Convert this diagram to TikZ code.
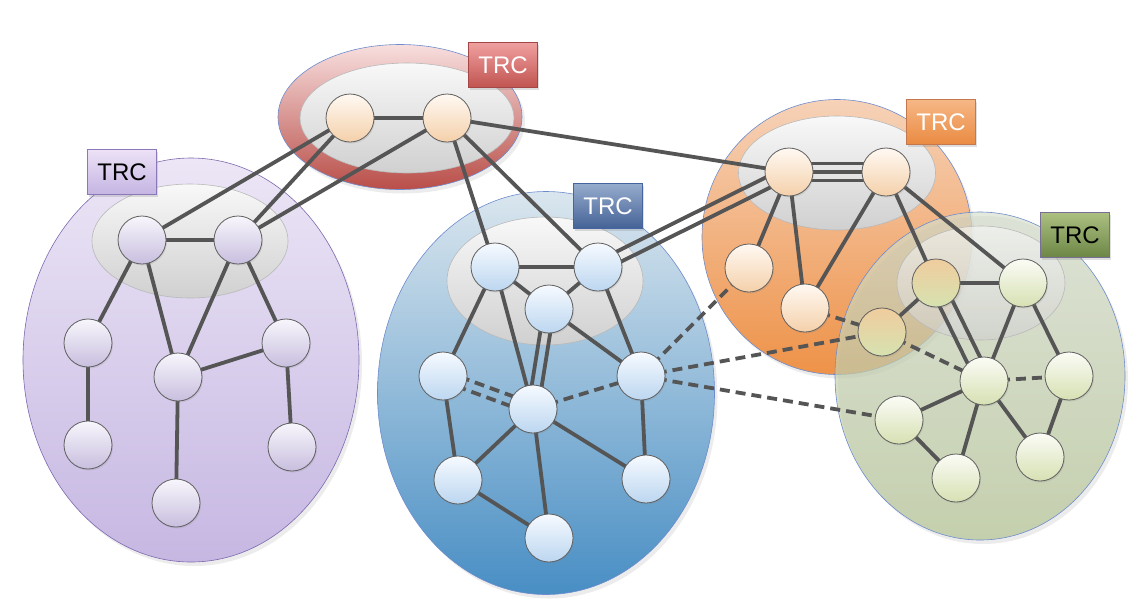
\documentclass[tikz,border=0pt]{standalone}
\usepackage{fontspec}
\setmainfont{Liberation Sans}
\usetikzlibrary{shapes.geometric,shadows,calc}
\pgfdeclarelayer{bg}
\pgfdeclarelayer{mid}
\pgfsetlayers{bg,mid,main}
\definecolor{edgecol}{RGB}{85,85,85}
\definecolor{nodeborder}{RGB}{95,95,95}
\definecolor{isdborder}{RGB}{110,140,205}
\definecolor{coretop}{RGB}{248,248,248}
\definecolor{corebot}{RGB}{208,208,208}
\definecolor{coreborder}{RGB}{185,185,185}
% ISD fills
\definecolor{purtop}{RGB}{236,230,246}
\definecolor{purbot}{RGB}{198,183,226}
\definecolor{purborder}{RGB}{125,105,175}
\definecolor{redtop}{RGB}{247,222,222}
\definecolor{redbot}{RGB}{185,78,72}
\definecolor{blutop}{RGB}{218,230,238}
\definecolor{blubot}{RGB}{72,142,196}
\definecolor{oratop}{RGB}{246,210,184}
\definecolor{orabot}{RGB}{238,146,72}
\definecolor{grntop}{RGB}{214,222,204}
\definecolor{grnbot}{RGB}{178,194,144}
% node fills
\definecolor{npurtop}{RGB}{248,246,252}
\definecolor{npurbot}{RGB}{200,190,222}
\definecolor{noratop}{RGB}{255,249,242}
\definecolor{norabot}{RGB}{244,208,170}
\definecolor{nblutop}{RGB}{246,250,255}
\definecolor{nblubot}{RGB}{188,214,240}
\definecolor{ngrntop}{RGB}{251,252,246}
\definecolor{ngrnbot}{RGB}{214,224,178}
\definecolor{nmixtop}{RGB}{240,204,158}
\definecolor{nmixbot}{RGB}{214,226,176}
% TRC boxes
\definecolor{tredtop}{RGB}{240,160,160}
\definecolor{tredbot}{RGB}{192,84,80}
\definecolor{tredbd}{RGB}{165,70,70}
\definecolor{tpurtop}{RGB}{236,226,246}
\definecolor{tpurbot}{RGB}{196,180,226}
\definecolor{tpurbd}{RGB}{140,120,185}
\definecolor{tblutop}{RGB}{150,172,205}
\definecolor{tblubot}{RGB}{68,98,150}
\definecolor{tblubd}{RGB}{70,100,160}
\definecolor{toratop}{RGB}{246,184,134}
\definecolor{torabot}{RGB}{234,138,66}
\definecolor{torabd}{RGB}{195,120,80}
\definecolor{tgrntop}{RGB}{172,192,128}
\definecolor{tgrnbot}{RGB}{108,134,70}
\definecolor{tgrnbd}{RGB}{120,110,150}
\newcommand\offedge[5]{\draw[#1] ($(#2.center)!#4!#5:(#3.center)$) -- ($(#3.center)!#4!-#5:(#2.center)$);}
\begin{document}
\begin{tikzpicture}[x=1pt,y=-1pt,
  isd/.style={ellipse, inner sep=0pt, draw=isdborder, line width=0.6pt,
    drop shadow={opacity=0.15, shadow xshift=3pt, shadow yshift=-4pt}},
  core/.style={ellipse, inner sep=0pt, draw=coreborder, line width=0.6pt,
    top color=coretop, bottom color=corebot},
  as/.style={circle, minimum size=48pt, inner sep=0pt, draw=nodeborder, line width=0.8pt,
    drop shadow={opacity=0.2, shadow xshift=1pt, shadow yshift=-1.5pt}},
  pn/.style={as, top color=npurtop, bottom color=npurbot},
  on/.style={as, top color=noratop, bottom color=norabot},
  bn/.style={as, top color=nblutop, bottom color=nblubot},
  gn/.style={as, top color=ngrntop, bottom color=ngrnbot},
  mn/.style={as, top color=nmixtop, bottom color=nmixbot},
  trc/.style={rectangle, minimum width=69pt, minimum height=45pt, inner sep=0pt,
    line width=0.6pt, font=\fontsize{24}{24}\selectfont,
    drop shadow={opacity=0.25, shadow xshift=1.5pt, shadow yshift=-2pt}},
  edge/.style={draw=edgecol, line width=3.8pt},
  dedge/.style={edge, dash pattern=on 10pt off 6pt}]
\useasboundingbox (0,0) rectangle (1148,614);

\begin{pgfonlayer}{bg}
  \node[isd, draw=purborder, top color=purtop, bottom color=purbot,
        minimum width=336pt, minimum height=404pt] (purISD) at (191,360) {};
  \node[isd, top color=redtop, bottom color=redbot,
        minimum width=244pt, minimum height=145pt] (redISD) at (400,117) {};
  \node[isd, top color=blutop, bottom color=blubot,
        minimum width=337pt, minimum height=403pt] (bluISD) at (546,393) {};
  \node[isd, top color=oratop, bottom color=orabot,
        minimum width=270pt, minimum height=275pt] (oraISD) at (837,237) {};
  \node[core, minimum width=196pt, minimum height=114pt] (purCore) at (190,241) {};
  \node[core, minimum width=214pt, minimum height=110pt] (redCore) at (407,118) {};
  \node[core, minimum width=196pt, minimum height=128pt] (bluCore) at (545,281) {};
  \node[core, minimum width=197pt, minimum height=114pt] (oraCore) at (837,173) {};
  \node[isd, top color=grntop, bottom color=grnbot, fill opacity=0.68,
        minimum width=290pt, minimum height=328pt] (grnISD) at (980,376) {};
  \node[core, fill opacity=0.6, minimum width=168pt, minimum height=114pt] (grnCore) at (981,283) {};
\end{pgfonlayer}

% TRC labels
\node[trc, draw=tredbd, top color=tredtop, bottom color=tredbot, text=white] (trcR) at (503,65) {TRC};
\node[trc, draw=tpurbd, top color=tpurtop, bottom color=tpurbot, text=black] (trcP) at (122,172) {TRC};
\node[trc, draw=tblubd, top color=tblutop, bottom color=tblubot, text=white] (trcB) at (608,206) {TRC};
\node[trc, draw=torabd, top color=toratop, bottom color=torabot, text=white] (trcO) at (941,122) {TRC};
\node[trc, draw=tgrnbd, top color=tgrntop, bottom color=tgrnbot, text=black] (trcG) at (1075,235) {TRC};

% nodes
\node[on] (r1) at (350,118) {};
\node[on] (r2) at (447,118) {};

\node[pn] (p1) at (142,240) {};
\node[pn] (p2) at (238,240) {};
\node[pn] (p3) at (88,343) {};
\node[pn] (p4) at (178,377) {};
\node[pn] (p5) at (286,343) {};
\node[pn] (p6) at (88,445) {};
\node[pn] (p7) at (292,447) {};
\node[pn] (p8) at (176,503) {};

\node[bn] (b1) at (495,267) {};
\node[bn] (b2) at (598,267) {};
\node[bn] (b3) at (549,309) {};
\node[bn] (b4) at (443,376) {};
\node[bn] (b5) at (533,409) {};
\node[bn] (b6) at (641,376) {};
\node[bn] (b7) at (458,480) {};
\node[bn] (b8) at (646,479) {};
\node[bn] (b9) at (549,538) {};

\node[on] (o1) at (789,172) {};
\node[on] (o2) at (886,172) {};
\node[on] (o3) at (749,268) {};
\node[on] (o4) at (805,308) {};

\node[mn] (gA) at (936,283) {};
\node[gn] (gB) at (1023,283) {};
\node[mn] (gC) at (882,332) {};
\node[gn] (gD) at (984,381) {};
\node[gn] (gE) at (1069,376) {};
\node[gn] (gF) at (899,420) {};
\node[gn] (gG) at (1040,457) {};
\node[gn] (gH) at (956,478) {};

\begin{pgfonlayer}{mid}
  % red core
  \draw[edge] (r1.center) -- (r2.center);
  \draw[edge] (r1.center) -- (p1.center);
  \draw[edge] (r1.center) -- (p2.center);
  \draw[edge] (r2.center) -- (p2.center);
  \draw[edge] (r2.center) -- (b1.center);
  \draw[edge] (r2.center) -- (b2.center);
  \draw[edge] (r2.center) -- (o1.center);
  % purple
  \draw[edge] (p1.center) -- (p2.center);
  \draw[edge] (p1.center) -- (p3.center);
  \draw[edge] (p1.center) -- (p4.center);
  \draw[edge] (p2.center) -- (p4.center);
  \draw[edge] (p2.center) -- (p5.center);
  \draw[edge] (p4.center) -- (p5.center);
  \draw[edge] (p3.center) -- (p6.center);
  \draw[edge] (p4.center) -- (p8.center);
  \draw[edge] (p5.center) -- (p7.center);
  % blue
  \draw[edge] (b1.center) -- (b2.center);
  \draw[edge] (b1.center) -- (b3.center);
  \draw[edge] (b2.center) -- (b3.center);
  \draw[edge] (b1.center) -- (b4.center);
  \draw[edge] (b1.center) -- (b5.center);
  \offedge{edge}{b3}{b5}{5pt}{90}
  \offedge{edge}{b3}{b5}{5pt}{-90}
  \draw[edge] (b2.center) -- (b6.center);
  \draw[edge] (b3.center) -- (b6.center);
  \draw[edge] (b4.center) -- (b7.center);
  \draw[edge] (b5.center) -- (b7.center);
  \draw[edge] (b5.center) -- (b9.center);
  \draw[edge] (b5.center) -- (b8.center);
  \draw[edge] (b7.center) -- (b9.center);
  \draw[edge] (b6.center) -- (b8.center);
  \offedge{dedge}{b4}{b5}{5pt}{90}
  \offedge{dedge}{b4}{b5}{5pt}{-90}
  \draw[dedge] (b5.center) -- (b6.center);
  \offedge{edge}{b2}{o1}{5.5pt}{90}
  \offedge{edge}{b2}{o1}{5.5pt}{-90}
  % orange
  \draw[edge] (o1.center) -- (o2.center);
  \offedge{edge}{o1}{o2}{8.5pt}{90}
  \offedge{edge}{o1}{o2}{8.5pt}{-90}
  \draw[edge] (o1.center) -- (o3.center);
  \draw[edge] (o1.center) -- (o4.center);
  \draw[edge] (o2.center) -- (o4.center);
  \draw[edge] (o2.center) -- (gA.center);
  \draw[edge] (o2.center) -- (gB.center);
  % green
  \draw[edge] (gA.center) -- (gB.center);
  \draw[edge] (gA.center) -- (gC.center);
  \offedge{edge}{gA}{gD}{7pt}{90}
  \offedge{edge}{gA}{gD}{7pt}{-90}
  \draw[edge] (gB.center) -- (gD.center);
  \draw[edge] (gB.center) -- (gE.center);
  \draw[edge] (gD.center) -- (gF.center);
  \draw[edge] (gD.center) -- (gH.center);
  \draw[edge] (gD.center) -- (gG.center);
  \draw[edge] (gE.center) -- (gG.center);
  \draw[edge] (gF.center) -- (gH.center);
  % dashed inter-ISD
  \draw[dedge] (b6.center) -- (o3.center);
  \draw[dedge] (b6.center) -- (gC.center);
  \draw[dedge] (b6.center) -- (gF.center);
  \draw[dedge] (o4.center) -- (gC.center);
  \draw[dedge] (gC.center) -- (gD.center);
  \draw[dedge] (gD.center) -- (gE.center);
\end{pgfonlayer}
\end{tikzpicture}
\end{document}
